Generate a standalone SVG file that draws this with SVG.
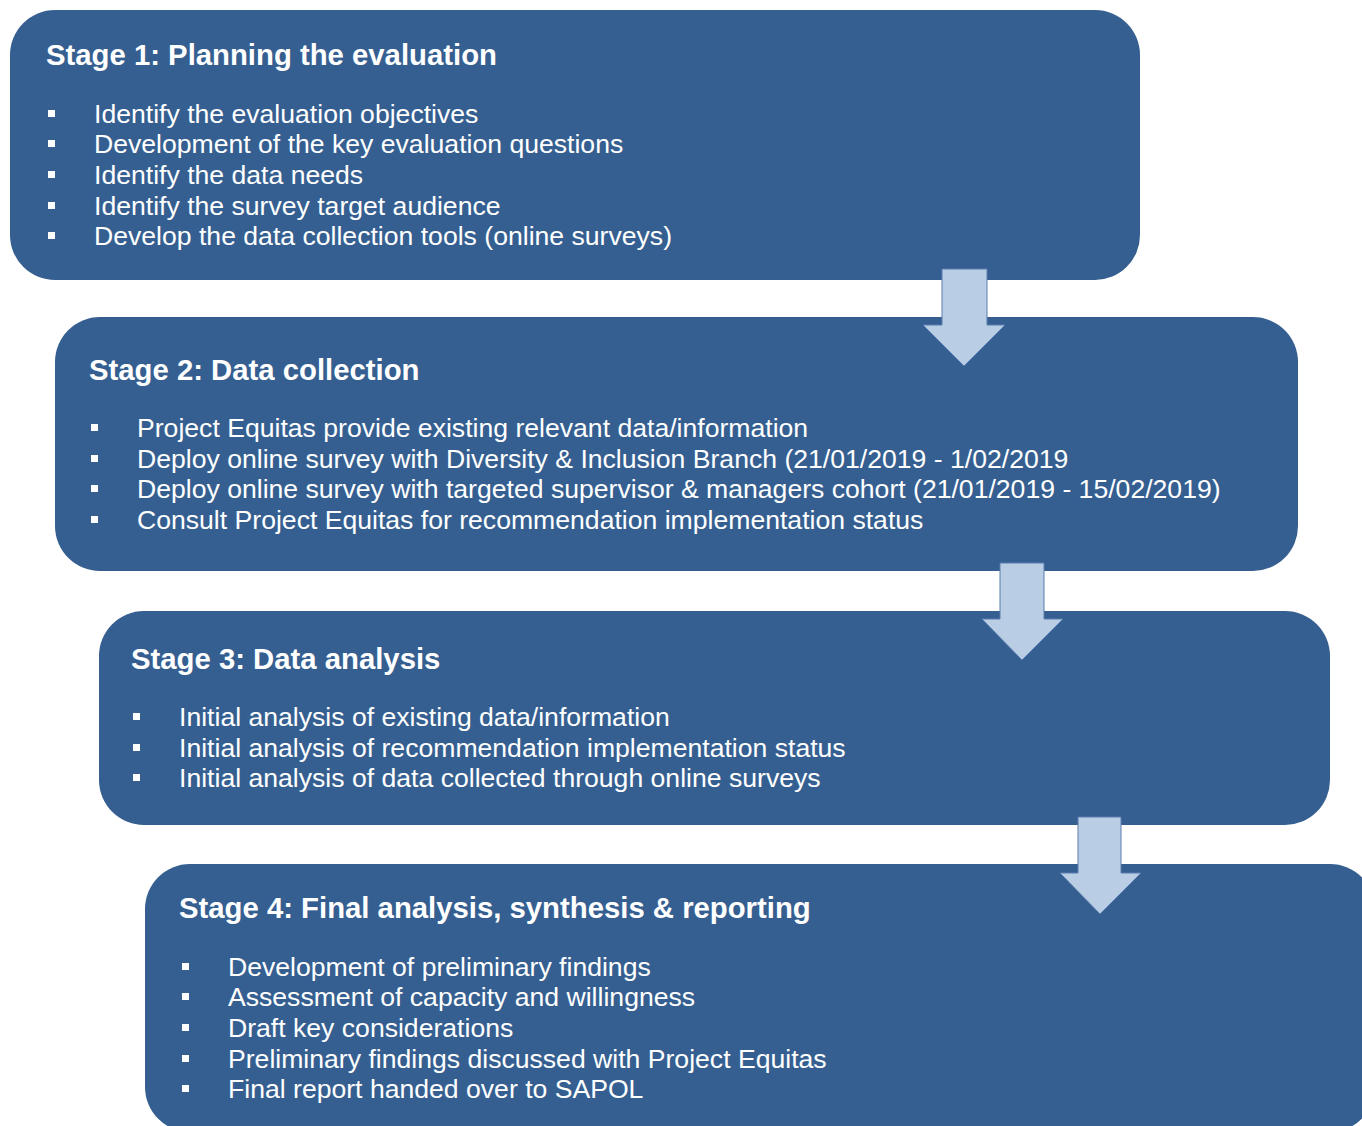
<svg xmlns="http://www.w3.org/2000/svg" width="1362" height="1126" viewBox="0 0 1362 1126">
<style>
.box{fill:#365F91;}
.arrow{fill:#B9CDE5;stroke:#5A7DAE;stroke-width:1;}
.title{font-family:"Liberation Sans",Arial,sans-serif;font-weight:bold;font-size:29.3px;fill:#FFFFFF;}
.item{font-family:"Liberation Sans",Arial,sans-serif;font-size:26.6px;fill:#FFFFFF;}
.bul{fill:#FFFFFF;}
</style>
<rect width="1362" height="1126" fill="#FFFFFF"/>
<g id="stage1">
<rect class="box" x="10" y="10" width="1130" height="270" rx="45" ry="45"/>
<text class="title" x="46" y="65">Stage 1: Planning the evaluation</text>
<rect class="bul" x="48" y="110" width="7" height="7"/>
<rect class="bul" x="48" y="140" width="7" height="7"/>
<rect class="bul" x="48" y="171" width="7" height="7"/>
<rect class="bul" x="48" y="202" width="7" height="7"/>
<rect class="bul" x="48" y="232" width="7" height="7"/>
<text class="item" x="94" y="123">Identify the evaluation objectives</text>
<text class="item" x="94" y="153">Development of the key evaluation questions</text>
<text class="item" x="94" y="184">Identify the data needs</text>
<text class="item" x="94" y="215">Identify the survey target audience</text>
<text class="item" x="94" y="245">Develop the data collection tools (online surveys)</text>
</g>
<g id="stage2">
<rect class="box" x="55" y="317" width="1243" height="254" rx="45" ry="45"/>
<text class="title" x="89" y="380">Stage 2: Data collection</text>
<rect class="bul" x="91" y="424" width="7" height="7"/>
<rect class="bul" x="91" y="455" width="7" height="7"/>
<rect class="bul" x="91" y="485" width="7" height="7"/>
<rect class="bul" x="91" y="516" width="7" height="7"/>
<text class="item" x="137" y="437">Project Equitas provide existing relevant data/information</text>
<text class="item" x="137" y="468">Deploy online survey with Diversity &amp; Inclusion Branch (21/01/2019 - 1/02/2019</text>
<text class="item" x="137" y="498">Deploy online survey with targeted supervisor &amp; managers cohort (21/01/2019 - 15/02/2019)</text>
<text class="item" x="137" y="529">Consult Project Equitas for recommendation implementation status</text>
</g>
<g id="stage3">
<rect class="box" x="99" y="611" width="1231" height="214" rx="45" ry="45"/>
<text class="title" x="131" y="669">Stage 3: Data analysis</text>
<rect class="bul" x="133" y="713" width="7" height="7"/>
<rect class="bul" x="133" y="744" width="7" height="7"/>
<rect class="bul" x="133" y="774" width="7" height="7"/>
<text class="item" x="179" y="726">Initial analysis of existing data/information</text>
<text class="item" x="179" y="757">Initial analysis of recommendation implementation status</text>
<text class="item" x="179" y="787">Initial analysis of data collected through online surveys</text>
</g>
<g id="stage4">
<rect class="box" x="145" y="864" width="1230" height="268" rx="45" ry="45"/>
<text class="title" x="179" y="918">Stage 4: Final analysis, synthesis &amp; reporting</text>
<rect class="bul" x="182" y="963" width="7" height="7"/>
<rect class="bul" x="182" y="993" width="7" height="7"/>
<rect class="bul" x="182" y="1024" width="7" height="7"/>
<rect class="bul" x="182" y="1055" width="7" height="7"/>
<rect class="bul" x="182" y="1085" width="7" height="7"/>
<text class="item" x="228" y="976">Development of preliminary findings</text>
<text class="item" x="228" y="1006">Assessment of capacity and willingness</text>
<text class="item" x="228" y="1037">Draft key considerations</text>
<text class="item" x="228" y="1068">Preliminary findings discussed with Project Equitas</text>
<text class="item" x="228" y="1098">Final report handed over to SAPOL</text>
</g>
<g id="connectors">
<polygon class="arrow" points="942,269 987,269 987,325 1005,325 964,366 923,325 942,325"/>
<polygon class="arrow" points="1000,563 1044,563 1044,619 1063,619 1022,660 982,619 1000,619"/>
<polygon class="arrow" points="1078,817 1121,817 1121,873 1141,873 1100,914 1060,873 1078,873"/>
</g>
</svg>
